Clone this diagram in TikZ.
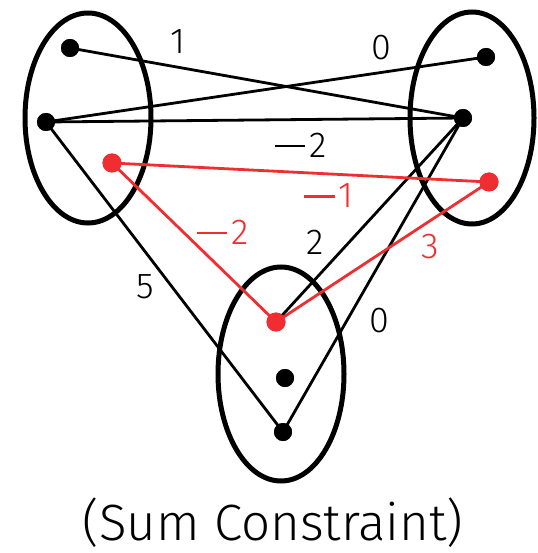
\documentclass[tikz,border=0pt]{standalone}
\usepackage{fontspec}
\setmainfont{Fira Sans}[UprightFont=* Light]
\definecolor{myred}{RGB}{240,45,48}
\newcommand{\mneg}{\rule[0.29em]{0.84em}{0.06em}\kern0.12em}
\begin{document}
\begin{tikzpicture}[x=1pt,y=-1pt,
  grp/.style={draw=black,line width=5pt},
  edge/.style={draw=black,line width=2.8pt},
  redge/.style={draw=myred,line width=2.8pt},
  dot/.style={circle,fill=black,inner sep=0pt,minimum size=18pt},
  rdot/.style={circle,fill=myred,inner sep=0pt,minimum size=19pt},
  lab/.style={font=\fontsize{36}{40}\selectfont,inner sep=0pt},
  rlab/.style={lab,text=myred}]
\useasboundingbox (0,0) rectangle (537,553);
% groups
\draw[grp] (88,118) ellipse [x radius=63, y radius=105];
\draw[grp] (472,118) ellipse [x radius=62, y radius=106];
\draw[grp] (281,374) ellipse [x radius=63, y radius=107];
% vertices
\node[dot] (L1) at (70,48) {};
\node[dot] (L2) at (46,122) {};
\node[rdot] (L3) at (112,163) {};
\node[dot] (R1) at (486,57) {};
\node[dot] (R2) at (463,118) {};
\node[rdot] (R3) at (489,182) {};
\node[rdot] (B1) at (276,322) {};
\node[dot] (B2) at (285,378) {};
\node[dot] (B3) at (283,432) {};
% edges
\draw[edge] (L1.center) -- (R2.center);
\draw[edge] (L2.center) -- (R1.center);
\draw[edge] (L2.center) -- (R2.center);
\draw[edge] (L2.center) -- (B3.center);
\draw[edge] (R2.center) -- (B1.center);
\draw[edge] (R2.center) -- (B3.center);
\draw[redge] (L3.center) -- (R3.center);
\draw[redge] (L3.center) -- (B1.center);
\draw[redge] (R3.center) -- (B1.center);
% redraw dots on top
\node[dot] at (L1) {};
\node[dot] at (L2) {};
\node[rdot] at (L3) {};
\node[dot] at (R1) {};
\node[dot] at (R2) {};
\node[rdot] at (R3) {};
\node[rdot] at (B1) {};
\node[dot] at (B2) {};
\node[dot] at (B3) {};
% labels
\node[lab] (w1) at (178,42) {1};
\node[lab] (w2) at (381,48) {0};
\node[lab] (w3) at (301,145) {\mneg2};
\node[lab] (w4) at (145,287) {5};
\node[lab] (w5) at (315,242) {2};
\node[lab] (w6) at (379,321) {0};
\node[rlab] (w7) at (329,196) {\mneg1};
\node[rlab] (w8) at (223,232) {\mneg2};
\node[rlab] (w9) at (430,247) {3};
\node[font=\fontsize{51}{56}\selectfont,inner sep=0pt] (title) at (273,523) {(Sum Constraint)};
\end{tikzpicture}
\end{document}
